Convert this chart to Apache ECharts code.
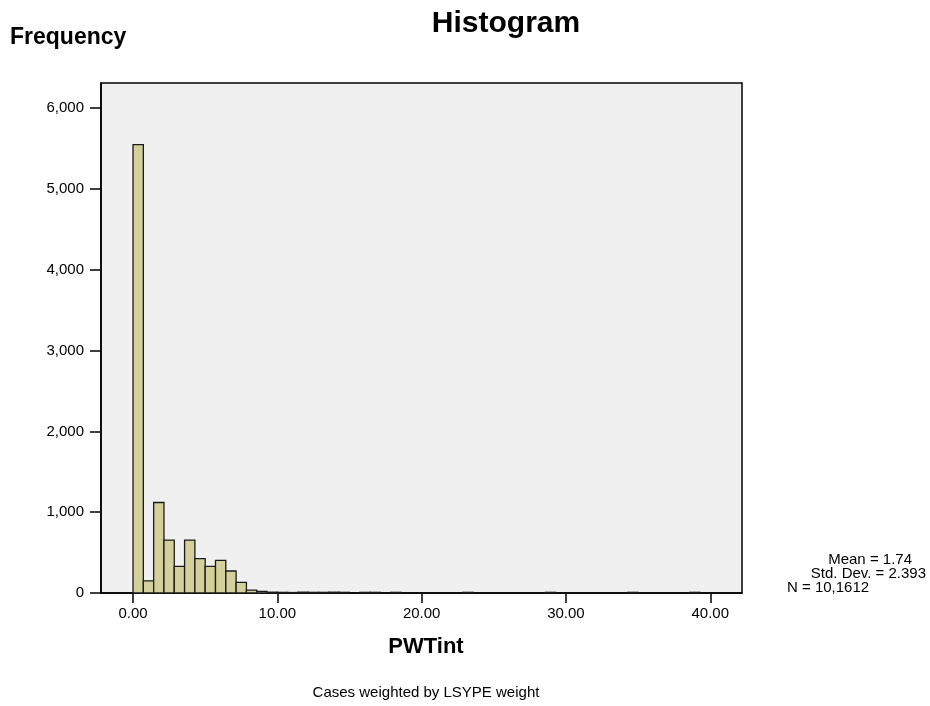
<!DOCTYPE html>
<html><head><meta charset="utf-8">
<script src="https://cdn.jsdelivr.net/npm/echarts@6/dist/echarts.min.js"></script>
<style>html,body{margin:0;padding:0;background:#fff}#c{width:930px;height:706px}</style>
</head><body><div id="c"></div>
<script>
// ---- data ----
const binStart = 0;
const binWidth = 40 / 56;
const binCounts = [
  5550, 150, 1120, 655, 330, 655, 425, 330, 405, 272,
  132, 35, 20, 10, 8, 6, 10, 8, 8, 10,
  8, 0, 8, 8, 0, 8, 0, 0, 0, 0,
  0, 0, 8, 0, 0, 0, 0, 0, 0, 0,
  8, 0, 0, 0, 0, 0, 0, 0, 8, 0,
  0, 0, 0, 0, 8, 0
];
const xTickValues = [0, 10, 20, 30, 40];
const yTickValues = [0, 1000, 2000, 3000, 4000, 5000, 6000];
const titleText = 'Histogram';
const yAxisTitle = 'Frequency';
const xAxisTitle = 'PWTint';
const footnote = 'Cases weighted by LSYPE weight';
const statsLines = ['Mean = 1.74', 'Std. Dev. = 2.393', 'N = 10,1612'];

const FONT = "'Liberation Sans', Arial, sans-serif";
const seriesData = binCounts.map((c, i) => [binStart + i * binWidth, binStart + (i + 1) * binWidth, c]);

const chart = echarts.init(document.getElementById('c'), null, {renderer: 'canvas'});
chart.setOption({
  animation: false,
  backgroundColor: '#ffffff',
  grid: {
    left: 101, top: 83, width: 641, height: 510,
    show: true, backgroundColor: '#f0f0f0', borderColor: '#000', borderWidth: 1.5
  },
  xAxis: {
    type: 'value', min: -2.22, max: 42.2,
    axisLine: {show: true, onZero: false, lineStyle: {color: '#000', width: 1.5}},
    axisTick: {show: true, inside: false, length: 10, customValues: xTickValues, lineStyle: {color: '#000', width: 1.5}},
    axisLabel: {show: true, customValues: xTickValues, margin: 13, color: '#000', fontSize: 15, fontFamily: FONT,
      formatter: v => v.toFixed(2)},
    splitLine: {show: false}
  },
  yAxis: {
    type: 'value', min: 0, max: 6312,
    axisLine: {show: true, onZero: false, lineStyle: {color: '#000', width: 1.5}},
    axisTick: {show: true, inside: false, length: 11, customValues: yTickValues, lineStyle: {color: '#000', width: 1.5}},
    axisLabel: {show: true, customValues: yTickValues, margin: 17, color: '#000', fontSize: 15, fontFamily: FONT,
      formatter: v => v.toLocaleString('en-US')},
    splitLine: {show: false}
  },
  series: [{
    type: 'custom',
    data: seriesData,
    encode: {x: [0, 1], y: 2},
    renderItem: function (params, api) {
      const x0 = api.value(0), x1 = api.value(1), v = api.value(2);
      if (!v) return null;
      const p0 = api.coord([x0, 0]);
      const p1 = api.coord([x1, v]);
      return {
        type: 'rect',
        shape: {x: p0[0], y: p1[1], width: p1[0] - p0[0], height: p0[1] - p1[1]},
        style: {fill: '#d4d09b', stroke: '#1a1a1a', lineWidth: 1.3}
      };
    }
  }],
  graphic: [
    {type: 'text', x: 506, y: 24, style: {text: titleText, font: 'bold 30px ' + FONT, fill: '#000', align: 'center', verticalAlign: 'middle'}},
    {type: 'text', x: 10, y: 38, style: {text: yAxisTitle, font: 'bold 23px ' + FONT, fill: '#000', align: 'left', verticalAlign: 'middle'}},
    {type: 'text', x: 426, y: 647, style: {text: xAxisTitle, font: 'bold 22px ' + FONT, fill: '#000', align: 'center', verticalAlign: 'middle'}},
    {type: 'text', x: 426, y: 693, style: {text: footnote, font: '15px ' + FONT, fill: '#000', align: 'center', verticalAlign: 'middle'}},
    {type: 'text', x: 912, y: 560, style: {text: statsLines[0], font: '15px ' + FONT, fill: '#000', align: 'right', verticalAlign: 'middle'}},
    {type: 'text', x: 926, y: 574, style: {text: statsLines[1], font: '15px ' + FONT, fill: '#000', align: 'right', verticalAlign: 'middle'}},
    {type: 'text', x: 787, y: 588, style: {text: statsLines[2], font: '15px ' + FONT, fill: '#000', align: 'left', verticalAlign: 'middle'}}
  ]
});
</script>
</body></html>
